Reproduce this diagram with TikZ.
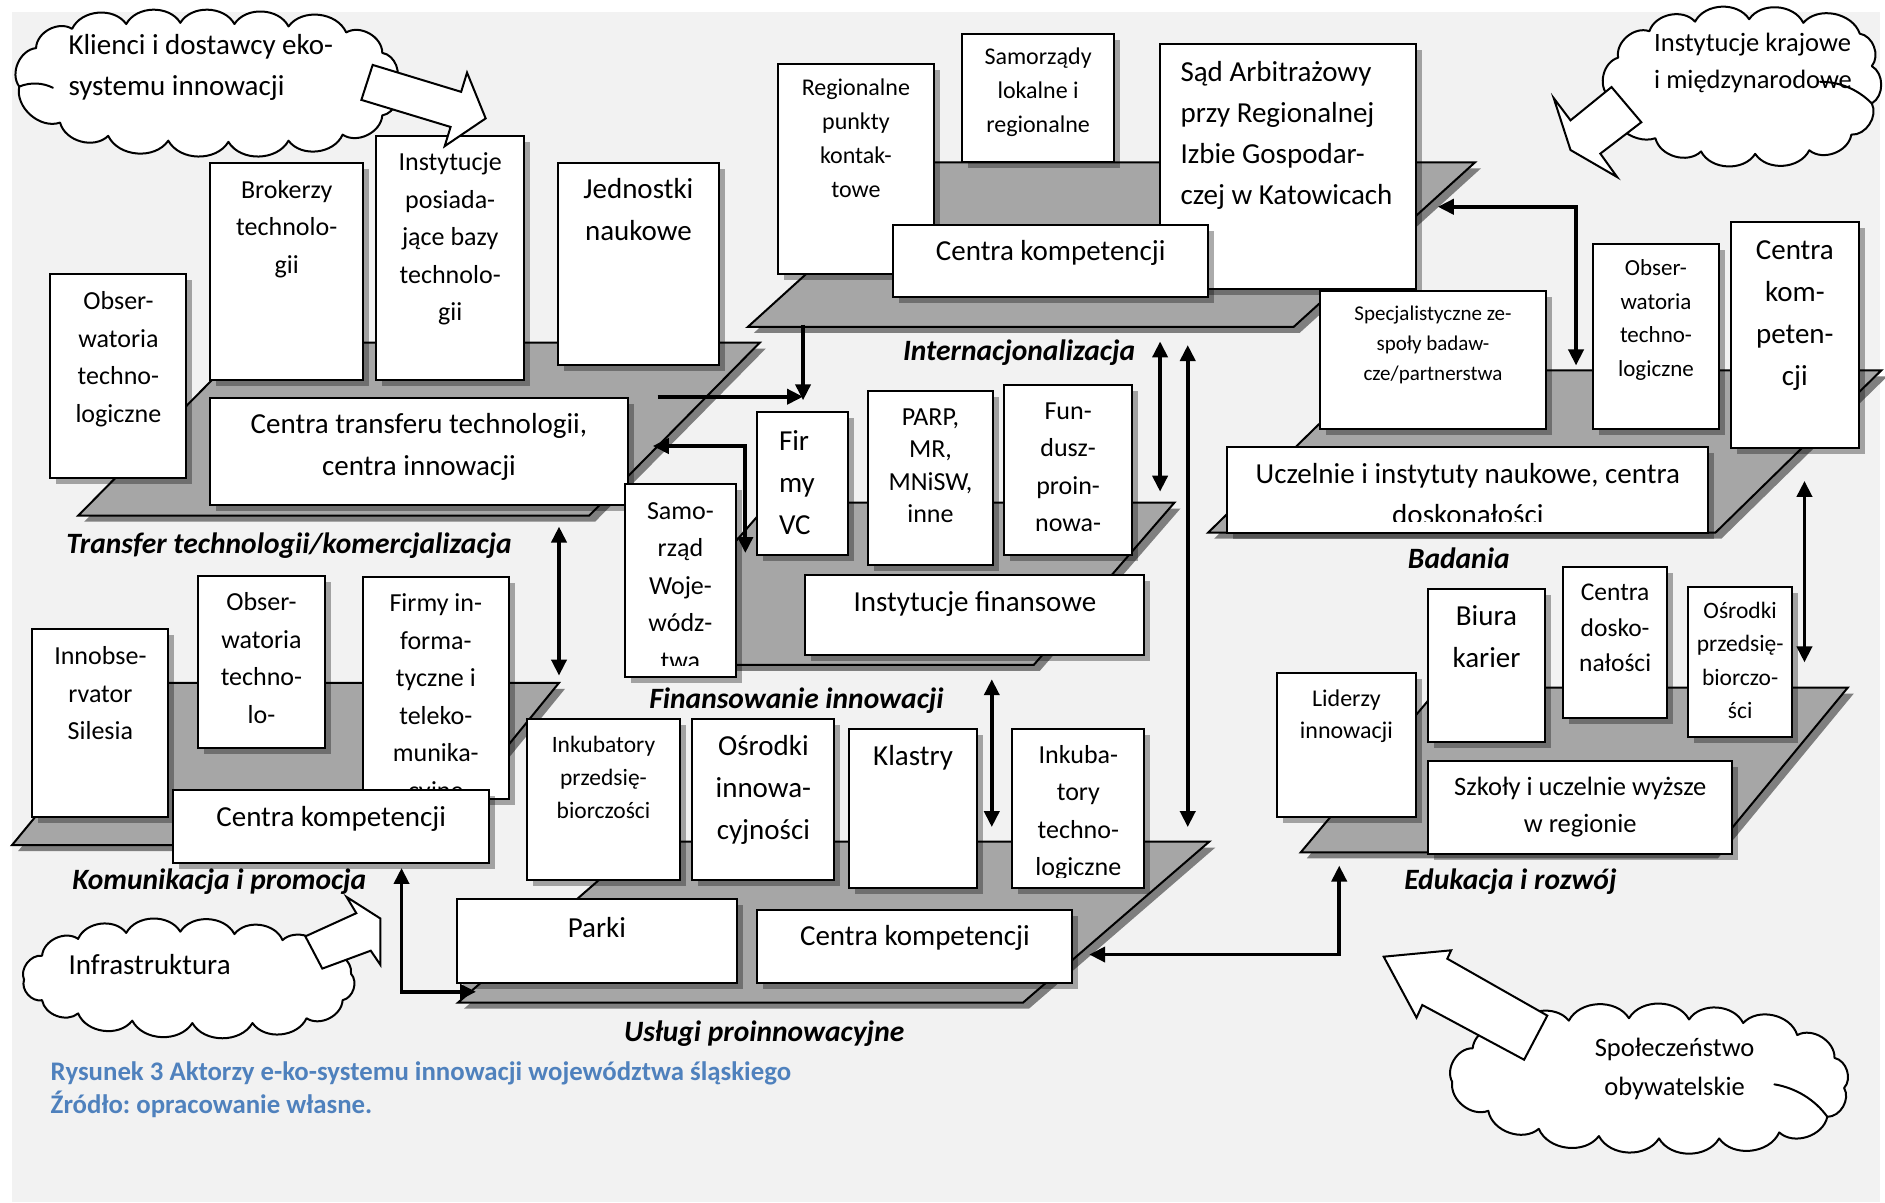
\documentclass[tikz,border=0pt]{standalone}
\usepackage{fontspec}
\setmainfont{Carlito}
\usetikzlibrary{arrows.meta,shadows}
\frenchspacing

\definecolor{bgc}{HTML}{F2F2F2}
\definecolor{planec}{HTML}{A6A6A6}
\definecolor{planesh}{HTML}{7F7F7F}
\definecolor{capblue}{HTML}{4F81BD}

\tikzset{
  plane/.style={fill=planec, draw=black, line width=2pt, line join=miter,
    drop shadow={shadow xshift=6pt, shadow yshift=-6pt, opacity=1, fill=planesh}},
  actorbox/.style={rectangle, draw=black, fill=white, line width=2pt, inner sep=0pt, outer sep=0pt,
    drop shadow={shadow xshift=6pt, shadow yshift=-6pt, opacity=0.33, fill=black}},
  actortext/.style={inner sep=0pt, outer sep=0pt, align=center},
  layerlabel/.style={font=\fontsize{29.5}{35}\selectfont\bfseries\itshape, inner sep=0pt, anchor=base west},
  tipT/.tip={Triangle[width=15pt,length=16pt]},
  link/.style={line width=3.8pt, -tipT},
  linkboth/.style={line width=3.8pt, tipT-tipT},
  blockarrow/.style={draw=black, fill=white, line width=2pt, line join=miter},
  cloudline/.style={draw=black, fill=white, line width=2pt, line join=round},
  cloudarc/.style={draw=black, line width=2pt, line cap=round},
  puff/.style={bend left=60},
}

% box with shadow and top-aligned text, clipped at the inner margin
% #1 name, #2 x1, #3 y1, #4 x2, #5 y2, #6 first line centre, #7 font size, #8 line skip, #9 text
\newcommand{\actor}[9]{%
  \node[actorbox, minimum width={(#4-#2)*1.2022pt}, minimum height={(#5-#3)*1.2022pt}]
    (#1) at ({(#2+#4)/2},{(#3+#5)/2}) {};
  \begin{scope}
    \clip ([xshift=1pt,yshift=-1pt]#1.north west) rectangle ([xshift=-1pt,yshift=11pt]#1.south east);
    \node[actortext, font=\fontsize{#7}{#8}\selectfont, anchor=north, yshift={0.53*#7pt}]
      (#1-t) at ({(#2+#4)/2},#6) {\rule{0pt}{0.8em}#9};
  \end{scope}
}

\begin{document}
\begin{tikzpicture}[x=1.2022pt, y=-1.2022pt]
\useasboundingbox (0,0) rectangle (1568,1000);
\fill[bgc] (10,10) rectangle (1564,1000);

% ---- Transfer technologii / komercjalizacja
\path[plane] (65,429) -- (490,429) -- (632,285) -- (207,285) -- cycle;
\actor{obs1}{42}{228}{155}{398}{252}{26}{37.5}{Obser-\\watoria\\techno-\\logiczne}
\actor{brok}{175}{136}{302}{316}{159}{26}{37.5}{Brokerzy\\technolo-\\gii}
\actor{inst}{313}{113}{436}{316}{136}{26}{37.5}{Instytucje\\posiada-\\jące bazy\\technolo-\\gii}
\actor{jedn}{464}{136}{598}{304}{159}{29}{42}{Jednostki\\naukowe}
\actor{ctt}{175}{331}{522}{420}{354}{29}{42}{Centra transferu technologii,\\centra innowacji}

% ---- Internacjonalizacja
\path[plane] (622,272) -- (1076,272) -- (1227,135) -- (773,135) -- cycle;
\actor{rpk}{647}{53}{777}{228}{74}{24}{34}{Regionalne\\punkty\\kontak-\\towe}
\actor{saml}{800}{28}{927}{135}{48}{24}{34}{Samorządy\\lokalne i\\regionalne}
\node[actorbox, minimum width={213*1.2022pt}, minimum height={203*1.2022pt}] (sad) at (1071.5,138.5) {};
\node[actortext, align=left, anchor=north west, font=\fontsize{29}{41}\selectfont, yshift={0.53*29pt}]
  (sad-t) at (982,61) {\rule{0pt}{0.8em}Sąd Arbitrażowy\\przy Regionalnej\\Izbie Gospodar-\\czej w Katowicach};
\actor{ck2}{743}{187}{1005}{247}{210}{29}{42}{Centra kompetencji}

% ---- Badania
\path[plane] (1005,443) -- (1427,443) -- (1565,308) -- (1143,308) -- cycle;
\actor{spec}{1098}{242}{1286}{357}{262}{21}{30}{Specjalistyczne ze-\\społy badaw-\\cze/partnerstwa}
\actor{obs3}{1325}{203}{1430}{357}{224}{23}{33.7}{Obser-\\watoria\\techno-\\logiczne}
\actor{ck3}{1440}{185}{1546}{373}{209}{29}{42}{Centra\\kom-\\peten-\\cji}
\actor{ucz}{1021}{372}{1421}{443}{396}{29}{41}{Uczelnie i instytuty naukowe, centra\\doskonałości}

% ---- Finansowanie innowacji
\path[plane] (523,553) -- (860,553) -- (977,418) -- (640,418) -- cycle;
\actor{samw}{520}{403}{612}{563}{426}{26}{37.5}{Samo-\\rząd\\Woje-\\wódz-\\twa}
\node[actorbox, minimum width={75*1.2022pt}, minimum height={119*1.2022pt}] (vc) at (667.5,402.5) {};
\node[actortext, align=left, anchor=north west, font=\fontsize{29}{42}\selectfont, yshift={0.53*29pt}]
  (vc-t) at (648,368) {\rule{0pt}{0.8em}Fir\\my\\VC};
\actor{parp}{722}{325}{826}{470}{348}{26}{32.5}{PARP,\\MR,\\MNiSW,\\inne}
\actor{fund}{835}{320}{942}{462}{343}{26}{37.5}{Fun-\\dusz-\\proin-\\nowa-}
\actor{ifin}{670}{478}{952}{545}{502}{29}{42}{Instytucje finansowe}

% ---- Komunikacja i promocja
\path[plane] (10,703) -- (355,703) -- (465,568) -- (121,568) -- cycle;
\actor{innob}{27}{523}{140}{680}{547}{26}{37.5}{Innobse-\\rvator\\Silesia}
\actor{obs5}{165}{479}{270}{622}{502}{26}{37.5}{Obser-\\watoria\\techno-\\lo-}
\actor{fit}{302}{480}{423}{665}{503}{26}{37.5}{Firmy in-\\forma-\\tyczne i\\teleko-\\munika-\\cyjne}
\actor{ck5}{144}{657}{407}{718}{681}{29}{42}{Centra kompetencji}

% ---- Usługi proinnowacyjne
\path[plane] (381,834) -- (851,834) -- (1006,700) -- (535,700) -- cycle;
\actor{inkp}{438}{598}{566}{732}{621}{23.5}{33}{Inkubatory\\przedsię-\\biorczości}
\actor{osi}{576}{598}{694}{732}{622}{29}{42}{Ośrodki\\innowa-\\cyjności}
\actor{klas}{706}{606}{813}{739}{630}{29}{42}{Klastry}
\actor{inkt}{842}{606}{952}{739}{629}{26}{37.5}{Inkuba-\\tory\\techno-\\logiczne}
\actor{park}{380}{748}{613}{818}{773}{29}{42}{Parki}
\actor{ck6}{630}{757}{892}{818}{780}{29}{42}{Centra kompetencji}

% ---- Edukacja i rozwój
\path[plane] (1082,709) -- (1424,709) -- (1537,572) -- (1197,572) -- cycle;
\actor{lid}{1062}{560}{1178}{680}{582}{24}{32.5}{Liderzy\\innowacji}
\actor{biur}{1188}{490}{1285}{617}{514}{29}{42}{Biura\\karier}
\actor{cdos}{1300}{472}{1387}{597}{494}{25.5}{35.5}{Centra\\dosko-\\nałości}
\actor{osp}{1404}{488}{1491}{613}{509}{23.5}{33.5}{Ośrodki\\przedsię-\\biorczo-\\ści}
\actor{szk}{1188}{633}{1441}{710}{656}{26.5}{37}{Szkoły i uczelnie wyższe\\w regionie}

% ---- clouds (chains of outward puffs) and block arrows
\path[cloudline] (16,72) to[puff] (30,40) to[puff] (60,24) to[puff] (105,20) to[puff] (150,19)
  to[puff] (195,20) to[puff] (240,22) to[puff] (288,27) to[puff] (318,44) to[puff] (328,70)
  to[puff] (318,96) to[puff] (285,112) to[puff] (240,117) to[puff] (190,118) to[puff] (140,117)
  to[puff] (90,113) to[puff] (50,102) to[puff] (16,72) -- cycle;
\draw[cloudarc] (16,72) .. controls (26,68) and (36,69) .. (44,73);
\path[cloudline] (1338,80) to[puff] (1346,48) to[puff] (1372,26) to[puff] (1410,18) to[puff] (1455,16)
  to[puff] (1500,19) to[puff] (1547,28) to[puff] (1557,55) to[puff] (1557,86) to[puff] (1540,112)
  to[puff] (1505,125) to[puff] (1460,128) to[puff] (1415,126) to[puff] (1377,115) to[puff] (1338,80) -- cycle;
\draw[cloudarc] (1557,86) .. controls (1545,74) and (1530,68) .. (1514,68);
\path[cloudline] (20,815) to[puff] (35,795) to[puff] (65,781) to[puff] (105,776) to[puff] (150,775)
  to[puff] (195,777) to[puff] (235,782) to[puff] (270,793) to[puff] (292,810) to[puff] (285,832)
  to[puff] (255,847) to[puff] (210,851) to[puff] (160,851) to[puff] (110,849) to[puff] (65,843)
  to[puff] (35,832) to[puff] (20,815) -- cycle;
\path[cloudline] (1208,900) to[puff] (1225,872) to[puff] (1260,856) to[puff] (1305,849) to[puff] (1355,847)
  to[puff] (1405,848) to[puff] (1450,851) to[puff] (1495,861) to[puff] (1526,880) to[puff] (1534,905)
  to[puff] (1520,929) to[puff] (1480,942) to[puff] (1430,947) to[puff] (1380,947) to[puff] (1330,945)
  to[puff] (1280,939) to[puff] (1238,924) to[puff] (1208,900) -- cycle;
\draw[cloudarc] (1520,929) .. controls (1510,915) and (1494,905) .. (1476,902);

\path[blockarrow] (310,54) -- (383.6,76.4) -- (388.5,60.4) -- (404,98.5) -- (369.9,121.6)
  -- (374.8,105.6) -- (300.6,83.1) -- cycle;
\path[blockarrow] (1340.5,72.4) -- (1306.4,100.1) -- (1292.4,81.6) -- (1306.4,124.8)
  -- (1345.2,147.3) -- (1331.2,127.8) -- (1365.3,101.7) -- cycle;
\path[blockarrow] (254,778.9) -- (296.4,759.6) -- (288.3,746.1) -- (316.5,764.1)
  -- (316.5,802.7) -- (308.4,790.8) -- (268.1,805.7) -- cycle;
\path[blockarrow] (1287.1,844.8) -- (1203.9,797.5) -- (1207.1,790.5) -- (1151,795.8)
  -- (1178.3,846.5) -- (1183.1,836) -- (1267.8,881.5) -- cycle;

\node[actortext, align=left, anchor=north west, font=\fontsize{29}{41}\selectfont, yshift={0.53*29pt}]
  (cl1-t) at (57,38.6) {\rule{0pt}{0.8em}Klienci i dostawcy eko-\\systemu innowacji};
\node[actortext, align=left, anchor=north west, font=\fontsize{26.5}{37}\selectfont, yshift={0.53*26.5pt}]
  (cl2-t) at (1376,37) {\rule{0pt}{0.8em}Instytucje krajowe\\i międzynarodowe};
\node[actortext, align=left, anchor=north west, font=\fontsize{29}{41}\selectfont, yshift={0.53*29pt}]
  (cl3-t) at (57,804) {\rule{0pt}{0.8em}Infrastruktura};
\node[actortext, anchor=north, font=\fontsize{26.5}{38.5}\selectfont, yshift={0.53*26.5pt}]
  (cl4-t) at (1393,873) {\rule{0pt}{0.8em}Społeczeństwo\\obywatelskie};

% ---- layer names
\node[layerlabel] (l-tt) at (55,460) {Transfer technologii/komercjalizacja};
\node[layerlabel] (l-int) at (751,300) {Internacjonalizacja};
\node[layerlabel] (l-bad) at (1171,473) {Badania};
\node[layerlabel] (l-fin) at (540,589) {Finansowanie innowacji};
\node[layerlabel] (l-kom) at (60,740) {Komunikacja i promocja};
\node[layerlabel] (l-edu) at (1168,740) {Edukacja i rozwój};
\node[layerlabel] (l-usl) at (519,866) {Usługi proinnowacyjne};

% ---- connectors
\coordinate (a1) at (668,270);  \coordinate (a2) at (668,333);
\coordinate (b1) at (547,330);  \coordinate (b2) at (668,330);
\coordinate (c0) at (620,371);  \coordinate (c1) at (543,371);  \coordinate (c2) at (620,460);
\coordinate (d1) at (965,284);  \coordinate (d2) at (965,409);
\coordinate (e1) at (988,287);  \coordinate (e2) at (988,688);
\coordinate (f1) at (465,438);  \coordinate (f2) at (465,562);
\coordinate (g1) at (825,565);  \coordinate (g2) at (825,688);
\coordinate (h0) at (1311,172); \coordinate (h1) at (1196,172); \coordinate (h2) at (1311,304);
\coordinate (i1) at (1501,400); \coordinate (i2) at (1501,551);
\coordinate (j0) at (1114,794); \coordinate (j1) at (906,794);  \coordinate (j2) at (1114,720);
\coordinate (k0) at (334,825);  \coordinate (k1) at (334,722);  \coordinate (k2) at (396,825);

\draw[link] (a1) -- (a2);
\draw[link] (b1) -- (b2);
\draw[linkboth] (c1) -- (c0) -- (c2);
\draw[linkboth] (d1) -- (d2);
\draw[linkboth] (e1) -- (e2);
\draw[linkboth] (f1) -- (f2);
\draw[linkboth] (g1) -- (g2);
\draw[linkboth] (h1) -- (h0) -- (h2);
\draw[linkboth] (i1) -- (i2);
\draw[linkboth] (j1) -- (j0) -- (j2);
\draw[linkboth] (k1) -- (k0) -- (k2);

% ---- caption
\node[anchor=north west, align=left, inner sep=0pt, text=capblue,
      font=\fontsize{26.8}{32.5}\selectfont\bfseries, yshift={0.53*26.8pt}] (cap) at (42,893)
  {\rule{0pt}{0.8em}Rysunek 3 Aktorzy e-ko-systemu innowacji województwa śląskiego\\Źródło: opracowanie własne.};
\end{tikzpicture}
\end{document}
